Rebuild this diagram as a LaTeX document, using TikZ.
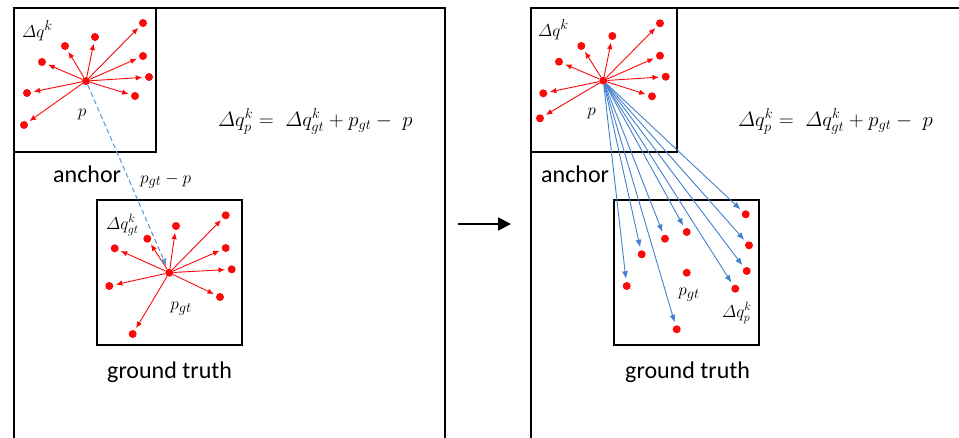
\documentclass[tikz,border=0pt]{standalone}
\usepackage{amsmath}
\usepackage{fontspec}
\setmainfont{Carlito}
\usetikzlibrary{arrows.meta}
\definecolor{myred}{RGB}{250,10,10}
\definecolor{myblue}{RGB}{66,128,206}
\definecolor{dashblue}{RGB}{86,150,212}
\begin{document}
\begin{tikzpicture}[x=1pt,y=-1pt,
  frame/.style={draw=black, line width=2.2pt},
  dot/.style={circle, fill=myred, inner sep=0pt, minimum size=8pt},
  redarrow/.style={draw=myred, line width=0.9pt, -{Latex[length=6.5pt,width=5.5pt]}, shorten >=2.5pt},
  bluearrow/.style={draw=myblue, line width=0.9pt, -{Latex[length=7.5pt,width=6pt]}, shorten >=3pt},
  dashline/.style={draw=dashblue, line width=1pt, dash pattern=on 5pt off 3pt, -{Latex[length=7.5pt,width=6pt]}, shorten >=3pt},
  bigarrow/.style={draw=black, line width=2pt, -{Triangle[length=13pt,width=13pt]}},
  word/.style={font=\fontsize{24}{28}\selectfont, inner sep=0pt, anchor=base west},
  mlbl/.style={font=\fontsize{19}{23}\selectfont, inner sep=0pt},
  slbl/.style={font=\fontsize{16.5}{20}\selectfont, inner sep=0pt},
  eqn/.style={font=\fontsize{21}{25}\selectfont, inner sep=0pt, anchor=base west}]
\useasboundingbox (0,0) rectangle (959,437);
\clip (0,0) rectangle (959,437);
% frames
\draw[frame] (14,8) rectangle (445,460);
\draw[frame] (531,8) rectangle (990,460);
\draw[frame] (14,8) rectangle (156,152);
\draw[frame] (531,8) rectangle (677,152);
\draw[frame] (97,200) rectangle (242,345);
\draw[frame] (614,200) rectangle (759,345);
% left anchor points
\foreach \i/\x/\y in {0/86/81, 1/143/23, 2/95/37, 3/65/46, 4/42/62, 5/143/56, 6/149/77, 7/27/93, 8/135/96, 9/24/125}
  \node[dot] (A\i) at (\x,\y) {};
\foreach \i in {1,...,9} \draw[redarrow] (A0) -- (A\i);
% left ground truth points
\foreach \i/\x/\y in {0/169.3/272.7, 1/225.7/215.3, 2/176/226, 3/147.3/238.7, 4/114.7/248.3, 5/225.7/248, 6/231.7/269.3, 7/109.3/286, 8/220/297, 9/132.7/334}
  \node[dot] (G\i) at (\x,\y) {};
\foreach \i in {1,...,9} \draw[redarrow] (G0) -- (G\i);
\draw[dashline] (A0) -- (G0);
% right anchor points
\foreach \i/\x/\y in {0/603.3/80.7, 1/660/23.3, 2/612.3/36, 3/581.3/46, 4/559/61.7, 5/660/55.7, 6/665.7/76.7, 7/543.3/93.3, 8/652/96.3, 9/540/118.3}
  \node[dot] (B\i) at (\x,\y) {};
\foreach \i in {1,...,9} \draw[redarrow] (B0) -- (B\i);
% right ground truth points
\foreach \i/\x/\y in {0/686.7/272.7, 1/745.7/214.3, 2/686.7/232, 3/665/238.7, 4/641.7/254.3, 5/749/245.3, 6/746.7/271, 7/626.7/286, 8/735.3/288.7, 9/676.7/329.3}
  \node[dot] (H\i) at (\x,\y) {};
\foreach \i in {1,...,9} \draw[bluearrow] (B0) -- (H\i);
% panel arrow
\coordinate (arrS) at (458,224);
\coordinate (arrE) at (511,224);
\draw[bigarrow] (arrS) -- (arrE);
% words
\node[word] (anchL) at (53,182) {anchor};
\node[word] (anchR) at (541,182) {anchor};
\node[word] (gtL) at (107,378) {ground truth};
\node[word] (gtR) at (625,378) {ground truth};
% math labels
\node[mlbl, anchor=base west] (dqL) at (22,37) {$\varDelta q^{k}$};
\node[mlbl, anchor=base west] (dqR) at (538,36) {$\varDelta q^{k}$};
\node[mlbl] (pL) at (82,114) {$p$};
\node[mlbl] (pR) at (591.5,113) {$p$};
\node[slbl, anchor=base west] (dqgt) at (106,229) {$\varDelta q^{k}_{gt}$};
\node[mlbl] (pgtL) at (181,309) {$p_{gt}$};
\node[mlbl] (pgtR) at (689,295) {$p_{gt}$};
\node[slbl, anchor=base west] (dqp) at (722,317) {$\varDelta q^{k}_{p}$};
\node[mlbl, anchor=base west] (diff) at (140,183) {$p_{gt} - p$};
\node[eqn] (eqL) at (218,126) {$\varDelta q^{k}_{p} =\; \varDelta q^{k}_{gt} + p_{gt} -\; p$};
\node[eqn] (eqR) at (738,126) {$\varDelta q^{k}_{p} =\; \varDelta q^{k}_{gt} + p_{gt} -\; p$};
\end{tikzpicture}
\end{document}
